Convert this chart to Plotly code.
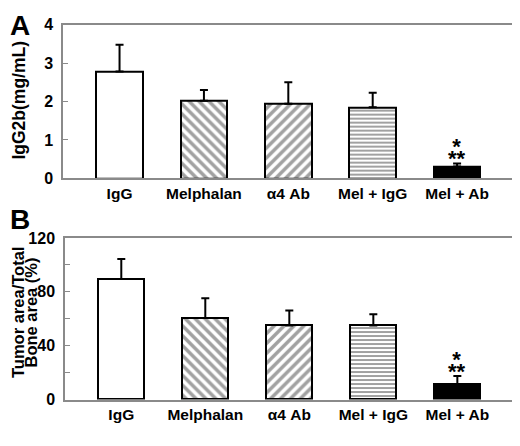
import plotly.graph_objects as go

# treatment groups (same in both panels)
groups = ['IgG', 'Melphalan', 'α4 Ab', 'Mel + IgG', 'Mel + Ab']

# panel A: serum IgG2b (mg/mL)
igg2b = [2.78, 2.02, 1.94, 1.85, 0.31]
igg2b_err = [0.70, 0.28, 0.56, 0.38, 0.08]

# panel B: tumor area / total bone area (%)
tumor_area = [89.5, 60.5, 55.0, 55.0, 11.4]
tumor_area_err = [15.0, 14.7, 11.2, 8.3, 6.0]

fills = ['white', 'white', 'white', 'white', 'black']
shapes = ['', '\\', '/', '-', '']
sizes = [7, 7, 7, 4, 7]

font = 'Arial, Liberation Sans, sans-serif'
grey = '#8a8a8a'

# page body adds an 8px margin, so the figure is drawn 8px smaller
W, H = 512, 438


def px_x(p):
    return (p - 8) / W


def px_y(p):
    return 1 - (p - 8) / H


def bar_trace(vals, errs, xa, ya):
    return go.Bar(
        x=groups, y=vals, xaxis=xa, yaxis=ya, width=0.55,
        marker=dict(color=fills, line=dict(color='black', width=2),
                    pattern=dict(shape=shapes, fgcolor='black', bgcolor='white',
                                 size=sizes, solidity=0.5)),
        error_y=dict(type='data', array=errs, arrayminus=[0] * len(errs),
                     symmetric=False, color='black', thickness=2, width=4),
        showlegend=False,
    )


fig = go.Figure()
fig.add_trace(bar_trace(igg2b, igg2b_err, 'x', 'y'))
fig.add_trace(bar_trace(tumor_area, tumor_area_err, 'x2', 'y2'))

xcommon = dict(type='category', range=[-0.67, 4.71], showline=True, mirror=True,
               linecolor=grey, linewidth=1.5, ticks='', showgrid=False,
               tickfont=dict(family=font, size=15.5, color='black', weight='bold'))
ycommon = dict(showline=True, mirror=True, linecolor=grey, linewidth=1.5,
               ticks='inside', ticklen=5, tickcolor=grey, showgrid=False, zeroline=False,
               ticklabelstandoff=5,
               tickfont=dict(family=font, size=16, color='black', weight='bold'))

fig.update_layout(
    width=W, height=H,
    margin=dict(l=0, r=0, t=0, b=0),
    paper_bgcolor='white', plot_bgcolor='white',
    bargap=0,
    xaxis=dict(domain=[px_x(63), px_x(517)], anchor='y', **xcommon),
    yaxis=dict(domain=[px_y(177), px_y(17)], anchor='x', range=[0, 4], dtick=1, **ycommon),
    xaxis2=dict(domain=[px_x(65), px_x(517)], anchor='y2', **xcommon),
    yaxis2=dict(domain=[px_y(407), px_y(239)], anchor='x2', range=[0, 120],
                tickvals=[0, 20, 40, 60, 80, 100, 120],
                ticktext=['0', '', '40', '', '80', '', '120'], **ycommon),
)

bold = dict(family=font, color='black', weight='bold')

# panel letters
fig.add_annotation(text='A', xref='paper', yref='paper', x=px_x(8), y=px_y(18),
                   xanchor='left', yanchor='middle', showarrow=False,
                   font=dict(size=28, **bold))
fig.add_annotation(text='B', xref='paper', yref='paper', x=px_x(8), y=px_y(220),
                   xanchor='left', yanchor='middle', showarrow=False,
                   font=dict(size=28, **bold))

# axis titles
fig.add_annotation(text='IgG2b(mg/mL)', xref='paper', yref='paper', x=px_x(19), y=px_y(96),
                   xanchor='center', yanchor='middle', textangle=-90, showarrow=False,
                   font=dict(size=17.5, **bold))
fig.add_annotation(text='Tumor area/Total', xref='paper', yref='paper', x=px_x(18), y=px_y(317),
                   xanchor='center', yanchor='middle', textangle=-90, showarrow=False,
                   font=dict(size=16.5, **bold))
fig.add_annotation(text='Bone area (%)', xref='paper', yref='paper', x=px_x(31.5), y=px_y(317),
                   xanchor='center', yanchor='middle', textangle=-90, showarrow=False,
                   font=dict(size=16.5, **bold))

# significance marks over Mel + Ab (small base size keeps the two rows tight)
stars = "<span style='font-size:22px'>*</span><br><span style='font-size:22px'>**</span>"
marks = [('x', 'y', igg2b[4] + igg2b_err[4]),
         ('x2', 'y2', tumor_area[4] + tumor_area_err[4])]
for xr, yr, top in marks:
    fig.add_annotation(text=stars, x='Mel + Ab', y=top, xref=xr, yref=yr,
                       yanchor='bottom', showarrow=False, yshift=-10,
                       font=dict(size=9, **bold))

fig.write_html('out.html')
